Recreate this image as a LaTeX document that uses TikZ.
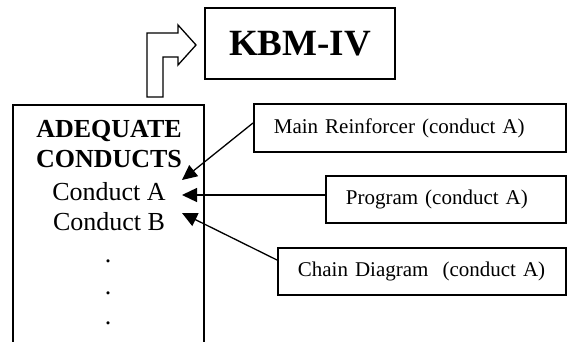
\documentclass[tikz,border=0pt]{standalone}
\usepackage{fontspec}
\setmainfont{Liberation Serif}
\usetikzlibrary{arrows.meta}

\begin{document}
\begin{tikzpicture}[
	x=1pt,
	y=-1pt,
	box/.style={
		draw,
		line width=1.8pt,
		minimum height=47pt,
		inner xsep=20pt,
		align=left,
		anchor=west,
		font=\fontsize{21}{25}\selectfont,
	},
	pointer/.style={
		line width=1.3pt,
		-{Triangle[length=15pt,width=14pt]},
	},
	heading/.style={
		anchor=base,
		inner sep=0pt,
		font=\fontsize{26}{30}\selectfont\bfseries,
	},
	entry/.style={
		anchor=base,
		inner sep=0pt,
		font=\fontsize{26}{30}\selectfont,
	},
]
\useasboundingbox (0,0) rectangle (567,342);

% title box and the bent arrow to it
\node[
	draw,
	line width=1.8pt,
	minimum width=190pt,
	minimum height=71pt,
	font=\fontsize{37}{40}\selectfont\bfseries,
] (kbm) at (300,43.5) {KBM-IV};
\draw[line width=1.3pt] (147,97) -- (147,33) -- (178,33) -- (178,25)
	-- (196,45) -- (178,65) -- (178,57) -- (163,57) -- (163,97) -- cycle;

% open box of conducts
\draw[line width=1.8pt] (13,342) -- (13,105) -- (204,105) -- (204,342);
\node[heading] (adq) at (109,138) {ADEQUATE};
\node[heading] (cnd) at (109,167) {CONDUCTS};
\node[entry] (cona) at (109,200) {Conduct A};
\node[entry] (conb) at (109,230) {Conduct B};
\foreach \y/\n in {262/dot1,294/dot2,324/dot3}
	\node[entry] (\n) at (108,\y) {.};

% boxes on the right
\node[box, minimum height=48pt, text width=272pt] (mr) at (253,128) {Main Reinforcer (conduct A)};
\node[box, text width=200pt] (prog) at (325,199.5) {Program (conduct A)};
\node[box, text width=248pt] (chain) at (277,271.5) {Chain Diagram \ (conduct A)};

% arrows
\coordinate (tipmr) at (182,180);
\coordinate (tipprog) at (182,195);
\coordinate (tipchain) at (182,213);
\draw[pointer] ([yshift=5pt]mr.west) -- (tipmr);
\draw[pointer] ([yshift=4.5pt]prog.west) -- (tipprog);
\draw[pointer] ([yshift=11.5pt]chain.west) -- (tipchain);
\end{tikzpicture}
\end{document}
